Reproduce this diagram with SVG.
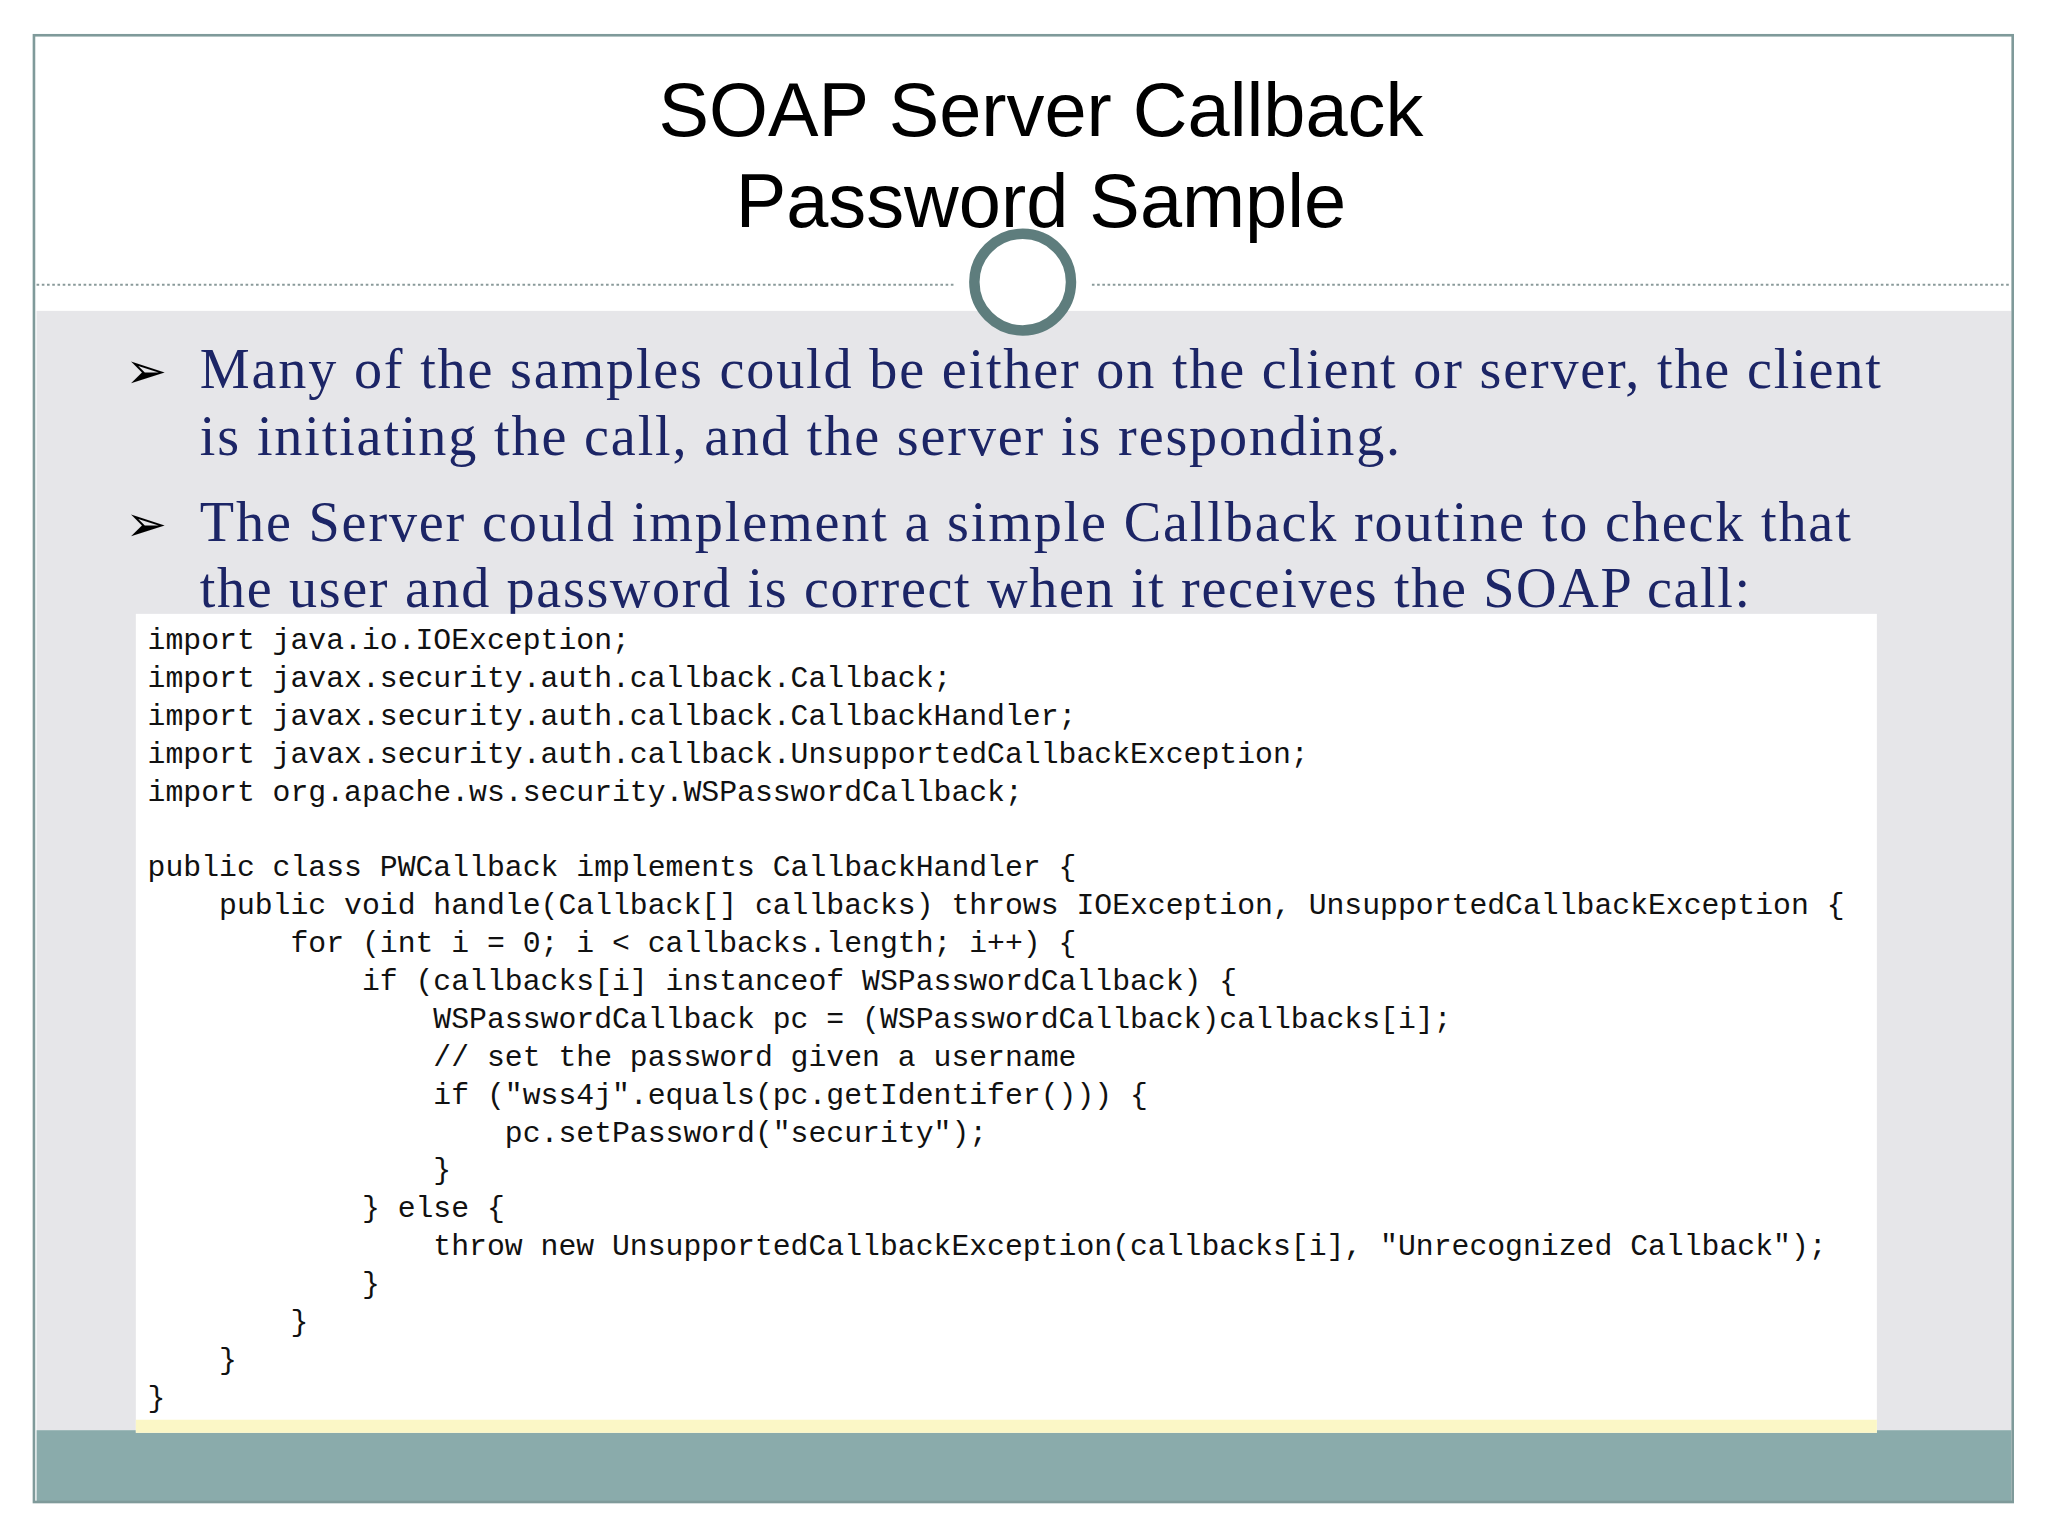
<svg xmlns="http://www.w3.org/2000/svg" width="2048" height="1536" viewBox="0 0 2048 1536">
<style>
.b{font-family:"Liberation Serif",serif;font-size:43px;fill:#1c2566}
.c{font-family:"Liberation Mono","DejaVu Sans Mono",monospace;font-size:22.8px;fill:#111;white-space:pre}
.t{font-family:"Liberation Sans",Arial,sans-serif;font-size:58px;fill:#000;text-anchor:middle}
.a{font-family:"DejaVu Sans",sans-serif;font-size:38px;fill:#000}
</style>
<rect width="2048" height="1536" fill="#fff"/>
<g transform="scale(1.3061)">
<rect x="28" y="238" width="1512" height="857" fill="#e6e6e9"/>
<rect x="28" y="1095" width="1512" height="55" fill="#8aabab"/>
<rect x="26" y="27" width="1515" height="1123" fill="none" stroke="#7f9a9a" stroke-width="2"/>
<g id="title"><text class="t" x="797" y="104">SOAP Server Callback</text><text class="t" x="797" y="174">Password Sample</text></g>
<line x1="28" y1="218" x2="730" y2="218" stroke="#8a9a9a" stroke-width="1.5" stroke-dasharray="2,2"/>
<line x1="836" y1="218" x2="1540" y2="218" stroke="#8a9a9a" stroke-width="1.5" stroke-dasharray="2,2"/>
<circle cx="783" cy="216" r="37" fill="#fff" stroke="#5e7d7d" stroke-width="8"/>
<g id="bullets">
<text class="a" x="96" y="297">➢</text>
<text class="a" x="96" y="414">➢</text>
<text class="b" x="153" y="297" textLength="1287" lengthAdjust="spacing">Many of the samples could be either on the client or server, the client</text>
<text class="b" x="153" y="348" textLength="919" lengthAdjust="spacing">is initiating the call, and the server is responding.</text>
<text class="b" x="153" y="414" textLength="1264" lengthAdjust="spacing">The Server could implement a simple Callback routine to check that</text>
<text class="b" x="153" y="465" textLength="1187" lengthAdjust="spacing">the user and password is correct when it receives the SOAP call:</text>
</g>
<g id="code">
<rect x="104" y="470" width="1333" height="627" fill="#fff"/>
<rect x="104" y="1087" width="1333" height="10" fill="#fbf7c6"/>
<text class="c" xml:space="preserve"><tspan x="113" y="497">import java.io.IOException;</tspan><tspan x="113" y="526">import javax.security.auth.callback.Callback;</tspan><tspan x="113" y="555">import javax.security.auth.callback.CallbackHandler;</tspan><tspan x="113" y="584">import javax.security.auth.callback.UnsupportedCallbackException;</tspan><tspan x="113" y="613">import org.apache.ws.security.WSPasswordCallback;</tspan><tspan x="113" y="671">public class PWCallback implements CallbackHandler {</tspan><tspan x="113" y="700">    public void handle(Callback[] callbacks) throws IOException, UnsupportedCallbackException {</tspan><tspan x="113" y="729">        for (int i = 0; i &lt; callbacks.length; i++) {</tspan><tspan x="113" y="758">            if (callbacks[i] instanceof WSPasswordCallback) {</tspan><tspan x="113" y="787">                WSPasswordCallback pc = (WSPasswordCallback)callbacks[i];</tspan><tspan x="113" y="816">                // set the password given a username</tspan><tspan x="113" y="845">                if ("wss4j".equals(pc.getIdentifer())) {</tspan><tspan x="113" y="874">                    pc.setPassword("security");</tspan><tspan x="113" y="903">                }</tspan><tspan x="113" y="932">            } else {</tspan><tspan x="113" y="961">                throw new UnsupportedCallbackException(callbacks[i], "Unrecognized Callback");</tspan><tspan x="113" y="990">            }</tspan><tspan x="113" y="1019">        }</tspan><tspan x="113" y="1048">    }</tspan><tspan x="113" y="1077">}</tspan></text>
</g>
</g>
</svg>
